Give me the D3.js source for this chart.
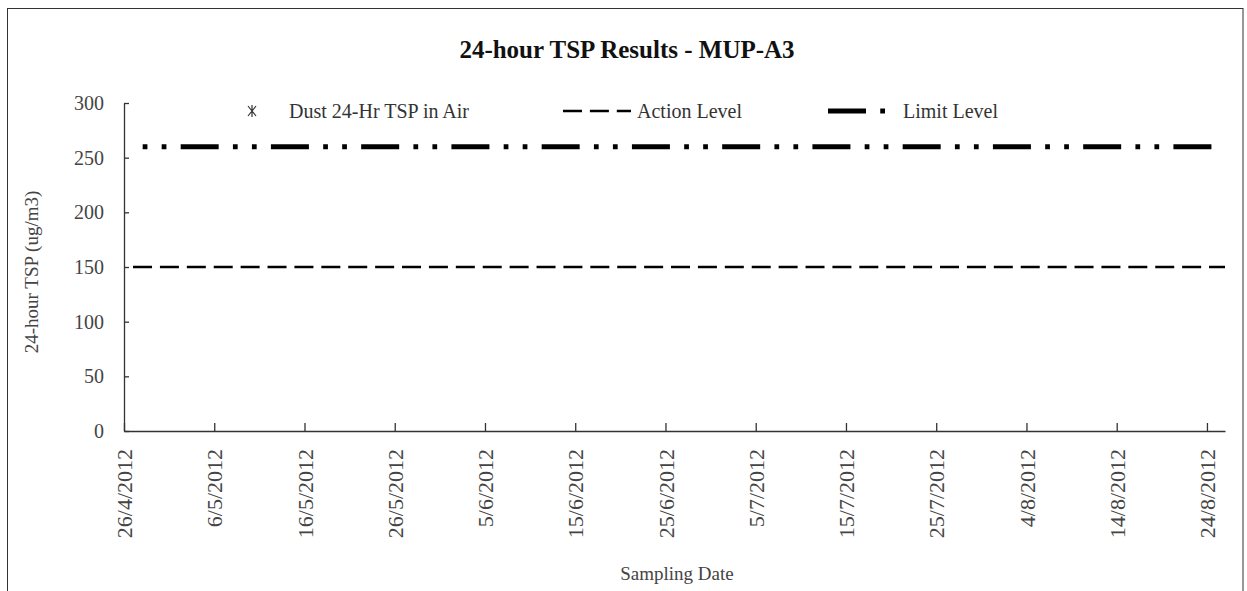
<!DOCTYPE html>
<html>
<head>
<meta charset="utf-8">
<script src="https://cdn.jsdelivr.net/npm/d3@7"></script>
<style>
  html, body { margin: 0; padding: 0; background: #fff; }
  svg { display: block; }
</style>
</head>
<body>
<svg id="chart" width="1247" height="591"></svg>
<script>
// ---- data ----
const chartTitle = "24-hour TSP Results - MUP-A3";
const yTitle = "24-hour TSP (ug/m3)";
const xTitle = "Sampling Date";
const seriesNames = ["Dust 24-Hr TSP in Air", "Action Level", "Limit Level"];
const tickDates = ["2012-04-26","2012-05-06","2012-05-16","2012-05-26","2012-06-05","2012-06-15",
  "2012-06-25","2012-07-05","2012-07-15","2012-07-25","2012-08-04","2012-08-14","2012-08-24"];
const yTicks = [0, 50, 100, 150, 200, 250, 300];
const dustDates = [];      // no measured points shown
const dustValues = [];
const levelDates = ["2012-04-27", "2012-08-26"];
const actionValues = [150, 150];
const limitValues = [260, 260];

// ---- layout ----
const FONT = "'Liberation Serif', 'DejaVu Serif', serif";
const parse = d3.timeParse("%Y-%m-%d");
const fmt = d => `${d.getDate()}/${d.getMonth() + 1}/${d.getFullYear()}`;
const svg = d3.select("#chart").style("font-family", FONT);
const x = d3.scaleTime().domain([parse("2012-04-26"), parse("2012-08-26")]).range([124, 1225]);
const y = d3.scaleLinear().domain([0, 300]).range([431, 103]);

// outer frame
svg.append("rect").attr("x", 7.5).attr("y", 8.5).attr("width", 1235.5).attr("height", 600)
  .attr("fill", "none").attr("stroke", "#333").attr("stroke-width", 1);

// title
svg.append("text").attr("x", 627).attr("y", 58).attr("text-anchor", "middle")
  .style("font-family", FONT).style("font-size", "25px").style("font-weight", "bold")
  .attr("fill", "#111").text(chartTitle);

// y axis
const yAxis = svg.append("g").attr("transform", "translate(124,0)")
  .call(d3.axisLeft(y).tickValues(yTicks).tickSizeInner(-5).tickSizeOuter(0).tickPadding(20));
yAxis.attr("font-family", null).attr("font-size", null);
yAxis.select(".domain").attr("stroke", "#333").attr("stroke-width", 1.3);
yAxis.selectAll(".tick line").attr("stroke", "#333").attr("stroke-width", 1.3);
yAxis.selectAll(".tick text").style("font-family", FONT).style("font-size", "20px").attr("fill", "#444");

// x axis
const xAxis = svg.append("g").attr("transform", "translate(0,431)")
  .call(d3.axisBottom(x).tickValues(tickDates.map(parse)).tickFormat(fmt)
    .tickSizeInner(-8).tickSizeOuter(0).tickPadding(0));
xAxis.attr("font-family", null).attr("font-size", null);
xAxis.select(".domain").attr("stroke", "#333").attr("stroke-width", 1.3);
xAxis.selectAll(".tick line").attr("stroke", "#333").attr("stroke-width", 1.3).attr("y2", -8);
xAxis.selectAll(".tick text")
  .style("font-family", FONT).style("font-size", "22px").attr("fill", "#444")
  .attr("text-anchor", "end").attr("dy", "0.35em")
  .attr("transform", "translate(0,18) rotate(-90)").attr("y", 0).attr("x", 0);

// axis titles
svg.append("text").attr("transform", "translate(38,272) rotate(-90)").attr("text-anchor", "middle")
  .style("font-family", FONT).style("font-size", "19px").attr("fill", "#444").text(yTitle);
svg.append("text").attr("x", 677).attr("y", 580).attr("text-anchor", "middle")
  .style("font-family", FONT).style("font-size", "19px").attr("fill", "#444").text(xTitle);

// lines
const line = d3.line().x(d => x(d[0])).y(d => y(d[1]));
const actionData = levelDates.map((d, i) => [parse(d), actionValues[i]]);
const limitData = levelDates.map((d, i) => [parse(d), limitValues[i]]);
svg.append("path").datum(actionData).attr("d", line).attr("fill", "none")
  .attr("stroke", "#000").attr("stroke-width", 2.4).attr("stroke-dasharray", "19,7.9");
svg.append("path").datum(limitData).attr("d", line).attr("fill", "none")
  .attr("stroke", "#000").attr("stroke-width", 4.8)
  .attr("stroke-dasharray", "4.75,14.25,4.75,14.25,38,14.25").attr("stroke-dashoffset", 80.6);

// dust points (none in this period)
const star = "M-4,-5L4,5M4,-5L-4,5M0,-6V6";
svg.append("g").selectAll("path").data(dustDates.map((d, i) => [parse(d), dustValues[i]]))
  .join("path").attr("transform", d => `translate(${x(d[0])},${y(d[1])})`)
  .attr("d", star).attr("stroke", "#333").attr("fill", "none");

// legend
const lg = svg.append("g");
lg.append("path").attr("transform", "translate(252,111)").attr("d", star)
  .attr("stroke", "#333").attr("stroke-width", 1.2).attr("fill", "none");
lg.append("text").attr("x", 289).attr("y", 118).style("font-family", FONT).style("font-size", "20px")
  .attr("fill", "#333").text(seriesNames[0]);
lg.append("path").attr("d", "M563,111H631").attr("stroke", "#000").attr("stroke-width", 2.4)
  .attr("stroke-dasharray", "19,7.9");
lg.append("text").attr("x", 637).attr("y", 118).style("font-family", FONT).style("font-size", "20px")
  .attr("fill", "#333").text(seriesNames[1]);
lg.append("path").attr("d", "M828,111H889").attr("stroke", "#000").attr("stroke-width", 4.8)
  .attr("stroke-dasharray", "38,14.25,4.75,14.25");
lg.append("text").attr("x", 903).attr("y", 118).style("font-family", FONT).style("font-size", "20px")
  .attr("fill", "#333").text(seriesNames[2]);
</script>
</body>
</html>
